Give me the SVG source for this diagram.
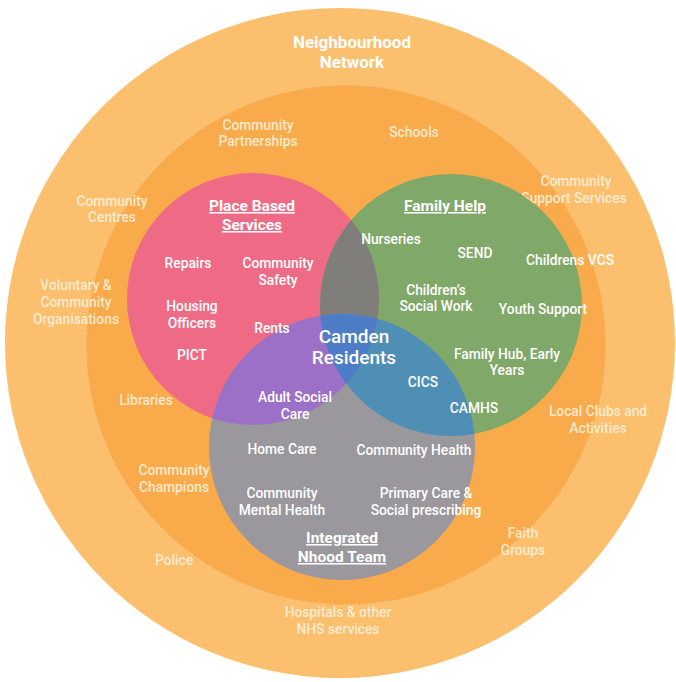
<svg xmlns="http://www.w3.org/2000/svg" width="676" height="682" viewBox="0 0 676 682">
<style>
.t{font-family:Roboto,"Liberation Sans",sans-serif;font-weight:500;font-size:13.8px;fill:#ffffff;text-anchor:middle}
.o{fill:#fff1dc;opacity:0.9}
.h{font-weight:700;font-size:15.5px;text-decoration:underline}
.big{font-size:19px;font-weight:500}
.nn{font-weight:700;font-size:17px}
</style>
<defs>
<clipPath id="cpP"><circle cx="253" cy="299" r="126"/></clipPath>
<clipPath id="cpG"><circle cx="451" cy="305" r="131"/></clipPath>
</defs>
<rect width="676" height="682" fill="#ffffff"/>
<g id="neighbourhood-network">
<circle cx="340" cy="343" r="335" fill="#fbbf6e"/>
</g>
<g id="community-ring">
<circle cx="346" cy="345" r="260" fill="#f9aa4a" stroke="#fbc27a" stroke-width="1.5" stroke-dasharray="2 2"/>
</g>
<g id="neighbourhood-network-labels">
<text class="t nn" x="352" y="48">Neighbourhood</text>
<text class="t nn" x="352" y="68">Network</text>
<text class="t o" x="76" y="290">Voluntary &amp;</text>
<text class="t o" x="76" y="307">Community</text>
<text class="t o" x="76" y="324">Organisations</text>
<text class="t o" x="174" y="565">Police</text>
<text class="t o" x="338" y="617">Hospitals &amp; other</text>
<text class="t o" x="338" y="634">NHS services</text>
</g>
<g id="community-ring-labels">
<text class="t o" x="258" y="130">Community</text>
<text class="t o" x="258" y="146">Partnerships</text>
<text class="t o" x="414" y="137">Schools</text>
<text class="t o" x="112" y="206">Community</text>
<text class="t o" x="112" y="222">Centres</text>
<text class="t o" x="576" y="186">Community</text>
<text class="t o" x="574" y="203">Support Services</text>
<text class="t o" x="146" y="405">Libraries</text>
<text class="t o" x="598" y="416">Local Clubs and</text>
<text class="t o" x="598" y="433">Activities</text>
<text class="t o" x="174" y="475">Community</text>
<text class="t o" x="174" y="492">Champions</text>
<text class="t o" x="523" y="538">Faith</text>
<text class="t o" x="523" y="555">Groups</text>
</g>
<g id="place-based-services">
<circle cx="253" cy="299" r="126" fill="#ee6a85"/>
</g>
<g id="family-help">
<circle cx="451" cy="305" r="131" fill="#80a868"/>
</g>
<g id="integrated-nhood-team">
<circle cx="342" cy="447" r="133" fill="#9a979d"/>
</g>
<g id="overlaps">
<circle cx="451" cy="305" r="131" fill="#7f7e7b" clip-path="url(#cpP)"/>
<circle cx="342" cy="447" r="133" fill="#9b70c6" clip-path="url(#cpP)"/>
<circle cx="342" cy="447" r="133" fill="#4f8fb6" clip-path="url(#cpG)"/>
<g clip-path="url(#cpP)"><circle cx="342" cy="447" r="133" fill="#4d7dc6" clip-path="url(#cpG)"/></g>
</g>
<g id="labels">
<text class="t h" x="252" y="211">Place Based</text>
<text class="t h" x="252" y="230">Services</text>
<text class="t h" x="445" y="211">Family Help</text>
<text class="t" x="391" y="244">Nurseries</text>
<text class="t" x="475" y="258">SEND</text>
<text class="t" x="570" y="265">Childrens VCS</text>
<text class="t" x="188" y="268">Repairs</text>
<text class="t" x="278" y="268">Community</text>
<text class="t" x="278" y="285">Safety</text>
<text class="t" x="436" y="295">Children’s</text>
<text class="t" x="436" y="311">Social Work</text>
<text class="t" x="543" y="314">Youth Support</text>
<text class="t" x="192" y="311">Housing</text>
<text class="t" x="192" y="328">Officers</text>
<text class="t" x="272" y="333">Rents</text>
<text class="t big" x="354" y="343">Camden</text>
<text class="t big" x="354" y="364">Residents</text>
<text class="t" x="192" y="360">PICT</text>
<text class="t" x="507" y="359">Family Hub, Early</text>
<text class="t" x="507" y="375">Years</text>
<text class="t" x="423" y="387">CICS</text>
<text class="t" x="295" y="402">Adult Social</text>
<text class="t" x="295" y="419">Care</text>
<text class="t" x="474" y="413">CAMHS</text>
<text class="t" x="282" y="454">Home Care</text>
<text class="t" x="414" y="455">Community Health</text>
<text class="t" x="282" y="498">Community</text>
<text class="t" x="282" y="515">Mental Health</text>
<text class="t" x="426" y="498">Primary Care &amp;</text>
<text class="t" x="426" y="515">Social prescribing</text>
<text class="t h" x="342" y="543">Integrated</text>
<text class="t h" x="342" y="562">Nhood Team</text>
</g>
</svg>
